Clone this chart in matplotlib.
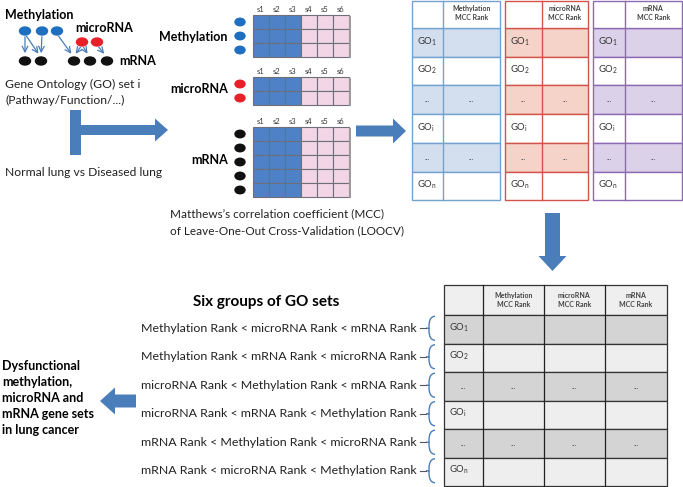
import matplotlib.pyplot as plt
from matplotlib.patches import Rectangle, Ellipse, FancyArrow, PathPatch
from matplotlib.path import Path

plt.rcParams['font.family'] = ['Lato', 'DejaVu Sans']

# data / labels
omics = ["Methylation", "microRNA", "mRNA"]
n_features = [3, 2, 5]
samples = ["s1", "s2", "s3", "s4", "s5", "s6"]
n_normal = 3
go_rows = [r"GO$_\mathregular{1}$", r"GO$_\mathregular{2}$", "...",
           r"GO$_\mathregular{i}$", "...", r"GO$_\mathregular{n}$"]
rank_headers = ["Methylation\nMCC Rank", "microRNA\nMCC Rank", "mRNA\nMCC Rank"]
group_orders = [
    "Methylation Rank < microRNA Rank < mRNA Rank",
    "Methylation Rank < mRNA Rank < microRNA Rank",
    "microRNA Rank < Methylation Rank < mRNA Rank",
    "microRNA Rank < mRNA Rank < Methylation Rank",
    "mRNA Rank < Methylation Rank < microRNA Rank",
    "mRNA Rank < microRNA Rank < Methylation Rank",
]
final_text = "Dysfunctional\nmethylation,\nmicroRNA and\nmRNA gene sets\nin lung cancer"

BLUE = "#4a7ebb"
DOT_BLUE = "#1f6fc0"
DOT_RED = "#e8202a"
omic_dot = [DOT_BLUE, DOT_RED, "#111111"]
tab_edge = ["#74a3d0", "#d2544a", "#8c6bb4"]
tab_fill = ["#d3deef", "#f5d3c8", "#dbd2e9"]
FS = 8.7

fig = plt.figure(figsize=(6.83, 4.87), dpi=100)
ax = fig.add_axes([0, 0, 1, 1])
ax.set_xlim(0, 683)
ax.set_ylim(487, 0)
ax.axis('off')

# ---- top-left network sketch
ax.text(5, 15, "Methylation", fontsize=9, fontweight='bold', va='center')
ax.text(75, 28, "microRNA", fontsize=9, fontweight='bold', va='center')
ax.text(119, 61, "mRNA", fontsize=9, fontweight='bold', va='center')
top_blue = [25, 42, 57]
top_red = [82, 97]
top_black = [25, 41, 74, 90, 107]
links = [("b", 0, 0), ("b", 0, 1), ("b", 1, 1), ("b", 2, 2),
         ("r", 0, 2), ("r", 0, 3), ("r", 1, 4)]
for kind, i, j in links:
    if kind == "b":
        x0, y0 = top_blue[i], 31
    else:
        x0, y0 = top_red[i], 42
    x1, y1 = top_black[j], 61
    ax.annotate("", xy=(x1 - 1 if x1 > x0 else x1, y1 - 5), xytext=(x0, y0 + 3),
                arrowprops=dict(arrowstyle='->', color=BLUE, lw=0.9))
for x in top_blue:
    ax.add_patch(Ellipse((x, 31), 11, 8, color=DOT_BLUE))
for x in top_red:
    ax.add_patch(Ellipse((x, 42), 11, 8, color=DOT_RED))
for x in top_black:
    ax.add_patch(Ellipse((x, 61), 11, 8, color="#111111"))

ax.text(5, 84, "Gene Ontology (GO) set i", fontsize=FS, va='center', color="#222222")
ax.text(5, 100, "(Pathway/Function/...)", fontsize=FS, va='center', color="#222222")
ax.text(5, 172, "Normal lung vs Diseased lung", fontsize=FS, va='center', color="#222222")

# T-shaped arrow
ax.add_patch(Rectangle((70, 110), 11, 45, color=BLUE, lw=0))
ax.add_patch(FancyArrow(80, 130, 88, 0, width=10, head_width=23, head_length=13,
                        length_includes_head=True, color=BLUE, lw=0))

# ---- expression matrices
mx0, cw, rh = 253, 16, 14
mat_top = [15, 77, 127]
label_y = [37, 89, 160]
for k, name in enumerate(omics):
    top = mat_top[k]
    nrow = n_features[k]
    for c, s in enumerate(samples):
        ax.text(mx0 + cw * c + cw / 2, top - 6, s, fontsize=5.5, ha='center',
                va='center', color="#333333")
        for r in range(nrow):
            fc = "#4f81c7" if c < n_normal else "#f2d6e6"
            ax.add_patch(Rectangle((mx0 + cw * c, top + rh * r), cw, rh,
                                   fc=fc, ec="#6f6f78", lw=0.8))
    ax.add_patch(Rectangle((mx0 + cw * 6, top + 1), 2, rh * nrow, fc="#9a9aa0", lw=0))
    for r in range(nrow):
        ax.add_patch(Ellipse((240, top + rh * r + rh / 2), 10, 7.5, color=omic_dot[k]))
    ax.text(228, label_y[k], name, fontsize=9, fontweight='bold', ha='right', va='center')

ax.text(170, 214, "Matthews\u2019s correlation coefficient (MCC)", fontsize=8.5,
        va='center', color="#222222")
ax.text(170, 231, "of Leave-One-Out Cross-Validation (LOOCV)", fontsize=8.5,
        va='center', color="#222222")

ax.add_patch(FancyArrow(356, 131, 50, 0, width=11, head_width=25, head_length=13,
                        length_includes_head=True, color=BLUE, lw=0))

# ---- three MCC rank tables
tx = [(412, 443, 500), (505, 542, 588), (593, 625, 682)]
hdr_h, row_h = 28, 28.7
for k, (x0, xm, x1) in enumerate(tx):
    for r in range(len(go_rows)):
        y = hdr_h + row_h * r
        fc = tab_fill[k] if r % 2 == 0 else "white"
        ax.add_patch(Rectangle((x0, y), x1 - x0, row_h, fc=fc, ec=tab_edge[k], lw=1.0))
        lab = go_rows[r]
        if lab == "...":
            for xc in ((x0 + xm) / 2, (xm + x1) / 2):
                ax.text(xc, y + row_h / 2, "...", fontsize=5.5, ha='center',
                        va='center', color="#555555")
        else:
            ax.text(x0 + 5, y + row_h / 2 - 1, lab, fontsize=6.8, va='center',
                    color="#333333")
    ax.add_patch(Rectangle((x0, 1), x1 - x0, hdr_h - 1, fc="white", ec=tab_edge[k], lw=1.0))
    ax.plot([xm, xm], [1, hdr_h + row_h * 6], color=tab_edge[k], lw=1.0)
    ax.text((xm + x1) / 2, 13, rank_headers[k], fontsize=5.0, fontweight='bold',
            ha='center', va='center', color="#444444", linespacing=1.3)

ax.add_patch(FancyArrow(552.5, 213, 0, 58, width=15, head_width=28, head_length=15,
                        length_includes_head=True, color=BLUE, lw=0))

# ---- combined table
bx = [444, 483, 544, 605, 667]
b_top, b_hdr, b_row = 285, 30, 28.5
ax.add_patch(Rectangle((bx[0], b_top), bx[-1] - bx[0], b_hdr, fc="#efefef",
                       ec="#333333", lw=0.9))
for c in range(3):
    ax.text((bx[c + 1] + bx[c + 2]) / 2, b_top + b_hdr / 2, rank_headers[c],
            fontsize=5.0, fontweight='bold', ha='center', va='center',
            color="#444444", linespacing=1.3)
for r in range(len(go_rows)):
    y = b_top + b_hdr + b_row * r
    fc = "#d4d4d4" if r % 2 == 0 else "#eeeeee"
    ax.add_patch(Rectangle((bx[0], y), bx[-1] - bx[0], b_row, fc=fc, ec="#333333", lw=0.9))
    lab = go_rows[r]
    if lab == "...":
        for c in range(4):
            ax.text((bx[c] + bx[c + 1]) / 2, y + b_row / 2, "...", fontsize=5.5,
                    ha='center', va='center', color="#555555")
    else:
        ax.text(bx[0] + 5, y + b_row / 2 - 2, lab, fontsize=6.8, va='center',
                color="#333333")
for x in bx[1:-1]:
    ax.plot([x, x], [b_top, b_top + b_hdr + b_row * 6], color="#222222", lw=0.9)

# braces and group labels
ax.text(266, 302, "Six groups of GO sets", fontsize=11, fontweight='bold',
        ha='center', va='center')
for r, txt in enumerate(group_orders):
    yc = b_top + b_hdr + b_row * r + b_row / 2 - 1
    ax.text(417, yc, txt, fontsize=8.9, ha='right', va='center', color="#222222")
    h = 12
    verts = [(435, yc - h), (429, yc - h), (429, yc - 2), (429, yc), (426, yc),
             (429, yc), (429, yc + 2), (429, yc + h), (435, yc + h)]
    codes = [Path.MOVETO, Path.CURVE3, Path.CURVE3, Path.LINETO, Path.LINETO,
             Path.MOVETO, Path.LINETO, Path.CURVE3, Path.CURVE3]
    ax.add_patch(PathPatch(Path(verts, codes), fc='none', ec=BLUE, lw=1.0))
    ax.plot([420, 426], [yc, yc], color="#555555", lw=0.8)

ax.add_patch(FancyArrow(136, 401, -36, 0, width=13, head_width=27, head_length=15,
                        length_includes_head=True, color=BLUE, lw=0))
ax.text(2, 398, final_text, fontsize=9, fontweight='bold', va='center',
        linespacing=1.4)

fig.savefig("out.png", dpi=100)
